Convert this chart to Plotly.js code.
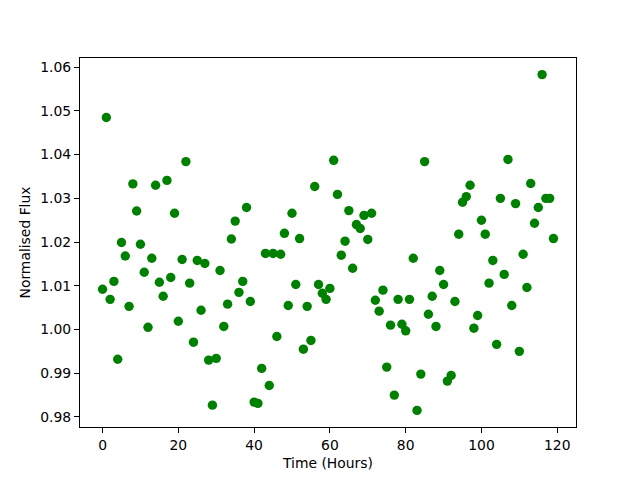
<!DOCTYPE html>
<html>
<head>
<meta charset="utf-8">
<script src="https://cdn.plot.ly/plotly-3.0.1.min.js"></script>
<style>html,body{margin:0;padding:0;background:#fff;}#chart{width:640px;height:480px;}</style>
</head>
<body>
<div id="chart"></div>
<script>
const hours = Array.from({length: 120}, (_, i) => i);
const flux = [
  1.0092, 1.0485, 1.0069, 1.0110, 0.9932, 1.0199, 1.0168, 1.0053, 1.0333, 1.0271,
  1.0195, 1.0131, 1.0005, 1.0163, 1.0330, 1.0108, 1.0076, 1.0341, 1.0119, 1.0266,
  1.0019, 1.0160, 1.0384, 1.0106, 0.9971, 1.0158, 1.0044, 1.0151, 0.9930, 0.9827,
  0.9934, 1.0135, 1.0007, 1.0058, 1.0207, 1.0248, 1.0085, 1.0110, 1.0279, 1.0064,
  0.9834, 0.9831, 0.9911, 1.0174, 0.9872, 1.0174, 0.9984, 1.0172, 1.0220, 1.0055,
  1.0266, 1.0103, 1.0208, 0.9955, 1.0053, 0.9975, 1.0327, 1.0103, 1.0083, 1.0069,
  1.0094, 1.0387, 1.0309, 1.0170, 1.0202, 1.0272, 1.0140, 1.0240, 1.0231, 1.0261,
  1.0206, 1.0266, 1.0067, 1.0042, 1.0090, 0.9914, 1.0010, 0.9850, 1.0069, 1.0012,
  0.9997, 1.0069, 1.0163, 0.9815, 0.9898, 1.0384, 1.0035, 1.0076, 1.0007, 1.0135,
  1.0103, 0.9882, 0.9895, 1.0064, 1.0218, 1.0291, 1.0304, 1.0330, 1.0003, 1.0032,
  1.0250, 1.0218, 1.0106, 1.0158, 0.9966, 1.0300, 1.0126, 1.0389, 1.0055, 1.0288,
  0.9950, 1.0172, 1.0096, 1.0334, 1.0243, 1.0279, 1.0583, 1.0300, 1.0300, 1.0208
];
const xTicks = [0, 20, 40, 60, 80, 100, 120];
const yTicks = [0.98, 0.99, 1.00, 1.01, 1.02, 1.03, 1.04, 1.05, 1.06];

const font = {family: "DejaVu Sans", size: 13.9, color: "#000"};
const axisCommon = {
  showline: true, linecolor: "#000", linewidth: 1.1, mirror: true,
  ticks: "outside", ticklen: 4.9, tickwidth: 1.1, tickcolor: "#000",
  showgrid: false, zeroline: false, tickfont: {family: "DejaVu Sans", size: 13.9, color: "#000"},
  automargin: false
};

Plotly.newPlot("chart", [{
  x: hours, y: flux, type: "scatter", mode: "markers",
  marker: {color: "#008000", size: 9.4, line: {width: 0}},
  hoverinfo: "skip"
}], {
  width: 640, height: 480,
  margin: {l: 80, r: 64, t: 58, b: 53, pad: 0},
  paper_bgcolor: "#fff", plot_bgcolor: "#fff",
  font: font,
  showlegend: false,
  xaxis: Object.assign({}, axisCommon, {
    range: [-5.95, 124.95], tickvals: xTicks, ticktext: xTicks.map(String),
    title: {text: "Time (Hours)", font: font, standoff: 6}
  }),
  yaxis: Object.assign({}, axisCommon, {
    range: [0.9777, 1.0621], tickvals: yTicks, ticktext: yTicks.map(v => v.toFixed(2)),
    title: {text: "Normalised Flux", font: font, standoff: 6}
  })
}, {displayModeBar: false, staticPlot: true});
</script>
</body>
</html>
